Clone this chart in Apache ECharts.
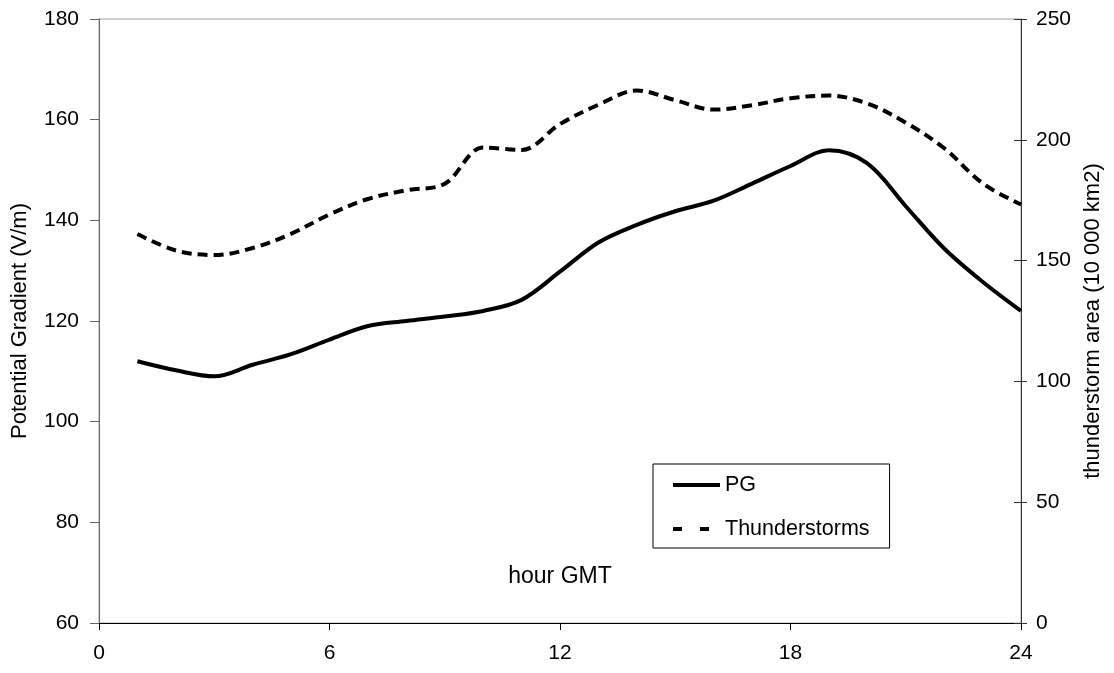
<!DOCTYPE html>
<html>
<head>
<meta charset="utf-8">
<script src="https://cdn.jsdelivr.net/npm/echarts@6/dist/echarts.min.js"></script>
<style>
html,body{margin:0;padding:0;background:#fff;}
#chart{width:1114px;height:673px;}
</style>
</head>
<body>
<div id="chart"></div>
<script>
// hour GMT
const hours = [1,2,3,4,5,6,7,8,9,10,11,12,13,14,15,16,17,18,19,20,21,22,23,24];
// Potential Gradient (V/m)
const pgValues = [112,110.2,109,111.3,113.4,116.3,119,120,120.9,122,124.2,129.8,135.6,139.1,141.8,143.9,147.3,150.8,153.9,151.3,142.8,134.4,127.8,122];
// thunderstorm area (10 000 km2)
const thunderValues = [161,154.2,152.3,155.2,161.1,169.1,175.5,179.1,181.8,196.8,195.8,206.5,214.5,220.4,216.4,212.5,214.3,217.2,218.3,215,207.1,196.5,182,173.2];
const xTicks = [0,6,12,18,24];
const leftTicks = [60,80,100,120,140,160,180];
const rightTicks = [0,50,100,150,200,250];

const FONT = "'Liberation Sans', Arial, sans-serif";
const chart = echarts.init(document.getElementById('chart'), null, {renderer:'canvas'});

const pgData = hours.map((h,i)=>[h,pgValues[i]]);
const thData = hours.map((h,i)=>[h,thunderValues[i]]);

chart.setOption({
  backgroundColor:'#fff',
  animation:false,
  textStyle:{fontFamily:FONT},
  grid:{left:99,right:93,top:19,bottom:50,show:true,borderColor:'#a0a0a0',borderWidth:1,backgroundColor:'transparent'},
  legend:{
    orient:'vertical',left:653,top:464,
    padding:[10,20,8,20],itemGap:22,itemWidth:47,itemHeight:4,
    borderColor:'#000',borderWidth:1,backgroundColor:'#fff',
    textStyle:{fontFamily:FONT,fontSize:21.5,color:'#000'},
    data:[
      {name:'PG',icon:'path://M0,0h47v4h-47z'},
      {name:'Thunderstorms',icon:'path://M0,0h9v4h-9zM27,0h9v4h-9zM46.9,0h0.1v0.1h-0.1z'}
    ]
  },
  xAxis:{
    type:'value',min:xTicks[0],max:xTicks[xTicks.length-1],interval:6,
    name:'hour GMT',nameLocation:'middle',nameGap:-58,
    nameTextStyle:{fontFamily:FONT,fontSize:23,color:'#000'},
    axisLine:{show:true,onZero:false,lineStyle:{color:'#000',width:1}},
    axisTick:{show:true,inside:false,length:7,lineStyle:{color:'#000'}},
    axisLabel:{fontFamily:FONT,fontSize:21,color:'#000',margin:20},
    splitLine:{show:false}
  },
  yAxis:[
    {
      type:'value',position:'left',min:leftTicks[0],max:leftTicks[leftTicks.length-1],interval:20,
      name:'Potential Gradient (V/m)',nameLocation:'middle',nameGap:68,
      nameTextStyle:{fontFamily:FONT,fontSize:22,color:'#000'},
      axisLine:{show:true,lineStyle:{color:'#666',width:1}},
      axisTick:{show:true,inside:false,length:9,lineStyle:{color:'#666'}},
      axisLabel:{fontFamily:FONT,fontSize:21,color:'#000',margin:20},
      splitLine:{show:false}
    },
    {
      type:'value',position:'right',min:rightTicks[0],max:rightTicks[rightTicks.length-1],interval:50,
      name:'thunderstorm area (10 000 km2)',nameLocation:'middle',nameGap:61,nameRotate:90,
      nameTextStyle:{fontFamily:FONT,fontSize:22,color:'#000'},
      axisLine:{show:true,lineStyle:{color:'#333',width:1}},
      axisTick:{show:true,inside:false,length:6,lineStyle:{color:'#333'}},
      axisLabel:{fontFamily:FONT,fontSize:21,color:'#000',margin:15},
      splitLine:{show:false}
    },
    {
      type:'value',position:'right',min:rightTicks[0],max:rightTicks[rightTicks.length-1],interval:50,
      axisLine:{show:false},
      axisTick:{show:true,inside:true,length:7,lineStyle:{color:'#333'}},
      axisLabel:{show:false},
      splitLine:{show:false}
    }
  ],
  series:[
    {
      name:'PG',type:'line',yAxisIndex:0,data:pgData,smooth:0.35,
      symbol:'none',showSymbol:false,
      lineStyle:{color:'#000',width:4,type:'solid'},
      itemStyle:{color:'#000'}
    },
    {
      name:'Thunderstorms',type:'line',yAxisIndex:1,data:thData,smooth:0.35,
      symbol:'none',showSymbol:false,
      lineStyle:{color:'#000',width:4,type:[10,6],cap:'butt'},
      itemStyle:{color:'#000'}
    }
  ]
});
</script>
</body>
</html>
